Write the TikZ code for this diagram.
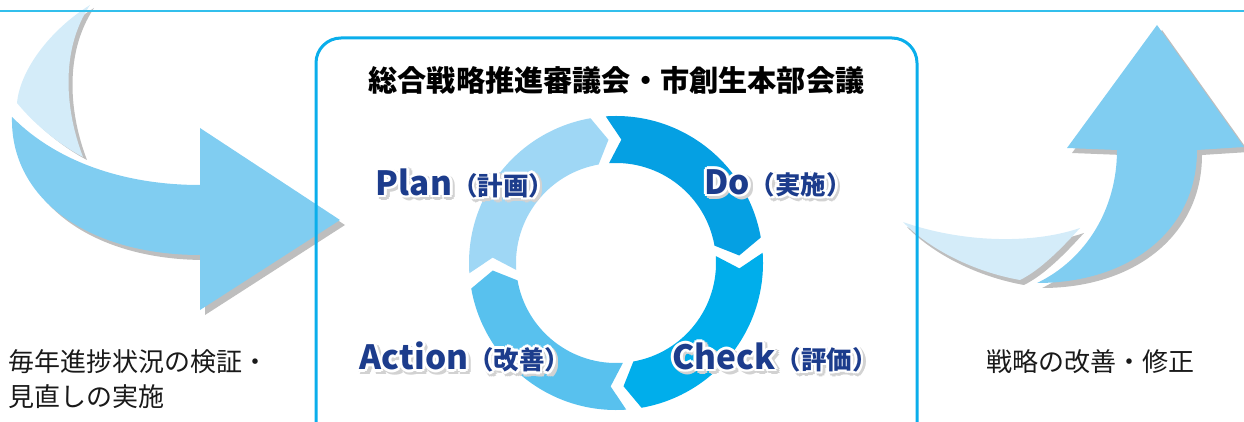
\documentclass[tikz,border=0pt]{standalone}
\usepackage{fontspec}
\newfontfamily\jp{Noto Sans CJK JP}
\definecolor{topline}{HTML}{33BFEC}
\definecolor{boxblue}{HTML}{0AAEEB}
\definecolor{arrowblue}{HTML}{80CDF1}
\definecolor{paleblue}{HTML}{D4ECF9}
\definecolor{shadowgray}{HTML}{BEBEBE}
\definecolor{planc}{HTML}{9FD7F5}
\definecolor{doc}{HTML}{05A0E3}
\definecolor{checkc}{HTML}{00AEEB}
\definecolor{actionc}{HTML}{58C1EE}
\definecolor{navy}{HTML}{1C3C8C}
\newcommand\cpy[4]{\rlap{\hspace*{#2}\raisebox{#3}{\color{#1}#4}}}
\newcommand\halotext[2]{\cpy{#1}{1.6pt}{0pt}{#2}\cpy{#1}{-1.6pt}{0pt}{#2}\cpy{#1}{0pt}{1.6pt}{#2}\cpy{#1}{0pt}{-1.6pt}{#2}\cpy{#1}{1.15pt}{1.15pt}{#2}\cpy{#1}{-1.15pt}{1.15pt}{#2}\cpy{#1}{1.15pt}{-1.15pt}{#2}\cpy{#1}{-1.15pt}{-1.15pt}{#2}#2}
\newcommand\pdca[2]{{\fontsize{19}{23}\selectfont\jp\bfseries #1}{\fontsize{14.5}{17}\selectfont\jp\bfseries （#2）}}
\newcommand\ringseg[3]{% start angle, end angle, colour
  \fill[#3] (#1:147) arc[start angle=#1, end angle=#2, radius=147] -- ({#2-6.5}:123.5) -- (#2:100)
    arc[start angle=#2, end angle=#1, radius=100] -- ({#1-6.5}:123.5) -- cycle;}
\tikzset{
  lab/.style={inner sep=0pt, text=navy},
  labshadow/.style={inner sep=0pt, text=shadowgray!70},
  plaintext/.style={inner sep=0pt, text=black!90, font=\jp\fontsize{14.8}{18}\selectfont},
}
\begin{document}
\begin{tikzpicture}[x=0.02cm, y=-0.02cm]
\useasboundingbox (0,0) rectangle (1244,422);
\begin{scope}
\clip (0,0) rectangle (1244,422);
% left arrow: pale back part
\fill[shadowgray, shift={(4,3)}] (90,5) .. controls (50,30) and (20,70) .. (17,103)
  .. controls (35,125) and (60,145) .. (83,157) .. controls (65,110) and (60,50) .. (90,5) -- cycle;
\fill[paleblue] (90,5) .. controls (50,30) and (20,70) .. (17,103)
  .. controls (35,125) and (60,145) .. (83,157) .. controls (65,110) and (60,50) .. (90,5) -- cycle;
% left arrow: main
\fill[shadowgray, shift={(5,5)}] (12,117) .. controls (60,165) and (130,185) .. (200,185)
  -- (200,128) -- (340,220) -- (200,310) -- (200,255) .. controls (90,255) and (10,200) .. (12,117) -- cycle;
\fill[arrowblue] (12,117) .. controls (60,165) and (130,185) .. (200,185)
  -- (200,128) -- (340,220) -- (200,310) -- (200,255) .. controls (90,255) and (10,200) .. (12,117) -- cycle;
% right arrow: pale part
\fill[shadowgray, shift={(4,5)}] (903,222) .. controls (960,242) and (1030,245) .. (1080,228)
  .. controls (1060,250) and (1040,270) .. (1020,280) .. controls (975,272) and (930,250) .. (903,222) -- cycle;
\fill[paleblue] (903,222) .. controls (960,242) and (1030,245) .. (1080,228)
  .. controls (1060,250) and (1040,270) .. (1020,280) .. controls (975,272) and (930,250) .. (903,222) -- cycle;
% right arrow: main
\fill[shadowgray, shift={(5,5)}] (1037,283) .. controls (1085,260) and (1117,210) .. (1117,150)
  -- (1067,148) -- (1157,25) -- (1244,147) -- (1197,150) .. controls (1197,230) and (1130,283) .. (1037,283) -- cycle;
\fill[arrowblue] (1037,283) .. controls (1085,260) and (1117,210) .. (1117,150)
  -- (1067,148) -- (1157,25) -- (1244,147) -- (1197,150) .. controls (1197,230) and (1130,283) .. (1037,283) -- cycle;
% top rule
\draw[topline, line width=0.04cm] (0,11) -- (1244,11);
% frame
\draw[boxblue, line width=0.06cm, rounded corners=0.5cm] (316,38) rectangle (917,470);
\end{scope}
% title
\node[inner sep=0pt, font=\jp\bfseries\fontsize{16.6}{19}\selectfont] (title) at (616.5,80) {総合戦略推進審議会・市創生本部会議};
% PDCA ring
\begin{scope}[shift={(616,263)}, y=0.02cm]
\ringseg{184}{100}{planc}
\ringseg{94}{10}{doc}
\ringseg{4}{-80}{checkc}
\ringseg{-86}{-170}{actionc}
\end{scope}
% labels (shadow, then halo text)
\node[labshadow] (planS) at (467.5,185.5) {\halotext{shadowgray!70}{\pdca{Plan}{計画}}};
\node[lab] (plan) at (465,183) {\halotext{white}{\pdca{Plan}{計画}}};
\node[labshadow] (doS) at (780.5,185.5) {\halotext{shadowgray!70}{\pdca{Do}{実施}}};
\node[lab] (do) at (778,183) {\halotext{white}{\pdca{Do}{実施}}};
\node[labshadow] (actionS) at (467.5,359.5) {\halotext{shadowgray!70}{\pdca{Action}{改善}}};
\node[lab] (action) at (465,357) {\halotext{white}{\pdca{Action}{改善}}};
\node[labshadow] (checkS) at (777.5,359.5) {\halotext{shadowgray!70}{\pdca{Check}{評価}}};
\node[lab] (check) at (775,357) {\halotext{white}{\pdca{Check}{評価}}};
% side texts
\node[plaintext, anchor=west] (left1) at (8,362) {毎年進捗状況の検証・};
\node[plaintext, anchor=west] (left2) at (8,397) {見直しの実施};
\node[plaintext] (right1) at (1090,362) {戦略の改善・修正};
\end{tikzpicture}
\end{document}
